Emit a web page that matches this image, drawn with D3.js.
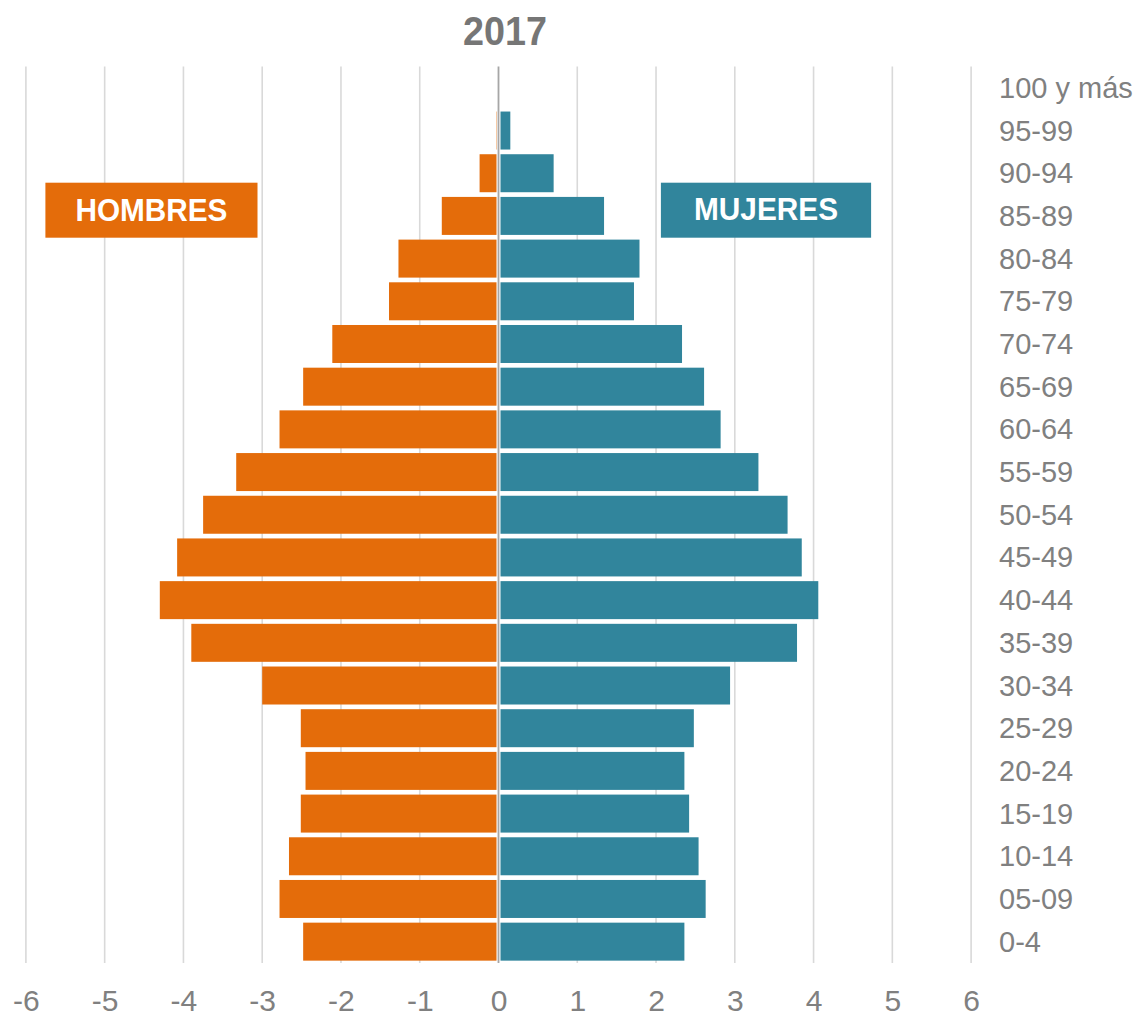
<!DOCTYPE html>
<html>
<head>
<meta charset="utf-8">
<script src="https://cdn.jsdelivr.net/npm/d3@7"></script>
<style>
  html, body { margin: 0; padding: 0; background: #fff; }
  svg { display: block; font-family: "Liberation Sans", Arial, sans-serif; }
</style>
</head>
<body>
<svg id="chart" width="1138" height="1016"></svg>
<script>
const title = "2017";
const ages = ["100 y más","95-99","90-94","85-89","80-84","75-79","70-74","65-69","60-64","55-59","50-54","45-49","40-44","35-39","30-34","25-29","20-24","15-19","10-14","05-09","0-4"];
const hombres = [0, 0.03, 0.24, 0.72, 1.27, 1.39, 2.11, 2.48, 2.78, 3.33, 3.75, 4.08, 4.30, 3.90, 3.00, 2.51, 2.45, 2.51, 2.66, 2.78, 2.48];
const mujeres = [0, 0.15, 0.70, 1.34, 1.79, 1.72, 2.33, 2.61, 2.82, 3.30, 3.67, 3.85, 4.06, 3.79, 2.94, 2.48, 2.36, 2.42, 2.54, 2.63, 2.36];
const xTicks = [-6,-5,-4,-3,-2,-1,0,1,2,3,4,5,6];
const seriesNames = ["HOMBRES", "MUJERES"];

const colH = "#E46C0A", colM = "#31859C";
const svg = d3.select("#chart");
const plotTop = 66.5, plotBottom = 963;

const x = d3.scaleLinear().domain([-6, 6]).range([25.9, 971.1]);
const y = d3.scaleBand().domain(ages).range([plotTop, plotBottom]).paddingInner(0.11).paddingOuter(0.055);

// gridlines
svg.append("g").selectAll("line").data(xTicks.filter(d => d !== 0)).join("line")
  .attr("x1", d => x(d)).attr("x2", d => x(d))
  .attr("y1", plotTop).attr("y2", plotBottom)
  .attr("stroke", "#d9d9d9").attr("stroke-width", 1.6);

// bars
const rows = ages.map((a, i) => ({age: a, h: hombres[i], m: mujeres[i]}));
svg.append("g").selectAll("rect").data(rows).join("rect")
  .attr("x", d => x(-d.h))
  .attr("y", d => y(d.age))
  .attr("width", d => Math.max(0, x(0) - 2 - x(-d.h)))
  .attr("height", y.bandwidth())
  .attr("fill", colH);
svg.append("g").selectAll("rect").data(rows).join("rect")
  .attr("x", x(0) + 2)
  .attr("y", d => y(d.age))
  .attr("width", d => Math.max(0, x(d.m) - x(0) - 2))
  .attr("height", y.bandwidth())
  .attr("fill", colM);

// center line
svg.append("line")
  .attr("x1", x(0)).attr("x2", x(0)).attr("y1", plotTop).attr("y2", plotBottom)
  .attr("stroke", "#a6a6a6").attr("stroke-width", 1.8);

// x-axis labels
const xAxis = d3.axisBottom(x).tickValues(xTicks).tickSize(0).tickPadding(0).tickFormat(d => String(d));
const gx = svg.append("g").attr("transform", `translate(0, ${plotBottom})`).call(xAxis);
gx.select(".domain").remove();
gx.selectAll("text")
  .attr("dy", null).attr("y", 48)
  .attr("font-size", 30).attr("fill", "#808080")
  .attr("font-family", "'Liberation Sans', Arial, sans-serif");

// row labels
svg.append("g").selectAll("text").data(ages).join("text")
  .attr("x", 999)
  .attr("y", d => y(d) + y.bandwidth() / 2 + 10)
  .attr("font-size", 29).attr("fill", "#808080")
  .text(d => d);

// title
svg.append("text").attr("x", 505).attr("y", 45).attr("text-anchor", "middle")
  .attr("font-size", 41).attr("font-weight", "bold").attr("fill", "#767676")
  .attr("textLength", 84).attr("lengthAdjust", "spacingAndGlyphs")
  .text(title);

// legend boxes
const boxes = [
  {name: seriesNames[0], x0: 45.4, x1: 257.5, col: colH, tl: 152, base: 220.7},
  {name: seriesNames[1], x0: 660.9, x1: 871.1, col: colM, tl: 144, base: 219.5}
];
const gb = svg.append("g");
gb.selectAll("rect").data(boxes).join("rect")
  .attr("x", d => d.x0).attr("y", 182.7)
  .attr("width", d => d.x1 - d.x0).attr("height", 55)
  .attr("fill", d => d.col);
gb.selectAll("text").data(boxes).join("text")
  .attr("x", d => (d.x0 + d.x1) / 2).attr("y", d => d.base)
  .attr("text-anchor", "middle")
  .attr("font-size", 31).attr("font-weight", "bold").attr("fill", "#fff")
  .attr("textLength", d => d.tl).attr("lengthAdjust", "spacingAndGlyphs")
  .text(d => d.name);
</script>
</body>
</html>
